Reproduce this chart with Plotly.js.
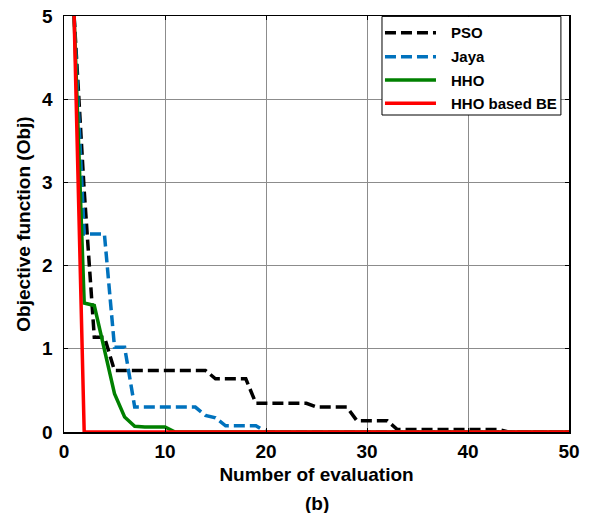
<!DOCTYPE html>
<html>
<head>
<meta charset="utf-8">
<script src="https://cdn.plot.ly/plotly-3.0.1.min.js"></script>
<style>html,body{margin:0;padding:0;background:#fff;}#chart{width:591px;height:513px;}</style>
</head>
<body>
<div id="chart"></div>
<script>
// Evaluation index
const evals = Array.from({length: 50}, (_, i) => i + 1);

// Series values
const psoVals = [5, 2.9, 1.14, 1.14, 0.74, 0.74, 0.74, 0.74, 0.74, 0.74,
  0.74, 0.74, 0.74, 0.74, 0.64, 0.64, 0.64, 0.64, 0.345, 0.345,
  0.345, 0.345, 0.345, 0.345, 0.30, 0.30, 0.30, 0.30, 0.136, 0.136,
  0.136, 0.136, 0.03, 0.03, 0.03, 0.03, 0.03, 0.03, 0.03, 0.03,
  0.03, 0.03, 0.03, 0, 0, 0, 0, 0, 0, 0];
const jayaVals = [5, 2.38, 2.38, 2.38, 1.02, 1.02, 0.30, 0.30, 0.30, 0.30,
  0.30, 0.30, 0.30, 0.20, 0.17, 0.075, 0.075, 0.075, 0.075, 0,
  0, 0, 0, 0, 0, 0, 0, 0, 0, 0,
  0, 0, 0, 0, 0, 0, 0, 0, 0, 0,
  0, 0, 0, 0, 0, 0, 0, 0, 0, 0];
const hhoVals = [5, 1.55, 1.52, 1.0, 0.46, 0.18, 0.07, 0.06, 0.06, 0.06,
  0, 0, 0, 0, 0, 0, 0, 0, 0, 0,
  0, 0, 0, 0, 0, 0, 0, 0, 0, 0,
  0, 0, 0, 0, 0, 0, 0, 0, 0, 0,
  0, 0, 0, 0, 0, 0, 0, 0, 0, 0];
const hhoBeVals = [5, 0, 0, 0, 0, 0, 0, 0, 0, 0,
  0, 0, 0, 0, 0, 0, 0, 0, 0, 0,
  0, 0, 0, 0, 0, 0, 0, 0, 0, 0,
  0, 0, 0, 0, 0, 0, 0, 0, 0, 0,
  0, 0, 0, 0, 0, 0, 0, 0, 0, 0];

const seriesNames = ['PSO', 'Jaya', 'HHO', 'HHO based BE'];
const seriesColors = ['#000000', '#0072BD', '#008000', '#FF0000'];
const seriesDash = ['11px,5px', '11px,5px', 'solid', 'solid'];
const xTickVals = [0, 10, 20, 30, 40, 50];
const yTickVals = [0, 1, 2, 3, 4, 5];

const allVals = [psoVals, jayaVals, hhoVals, hhoBeVals];
const traces = allVals.map((v, i) => ({
  x: evals, y: v, name: seriesNames[i], mode: 'lines', showlegend: false,
  line: {color: seriesColors[i], width: 3.5, dash: seriesDash[i]}
}));

const FONT = 'Liberation Sans, Arial, sans-serif';

// Legend drawn as a boxed key in paper coordinates
const legBox = {x0: 0.6297, x1: 0.984, y0: 0.762, y1: 0.999};
const legRows = [0.960, 0.902, 0.846, 0.790];
const legLine = {x0: 0.6356, x1: 0.7366};
const legText = 0.7624;

const shapes = [{
  type: 'rect', xref: 'paper', yref: 'paper',
  x0: legBox.x0, x1: legBox.x1, y0: legBox.y0, y1: legBox.y1,
  line: {color: '#000', width: 1}, fillcolor: '#fff', layer: 'above'
}];
const annotations = [];
seriesNames.forEach((n, i) => {
  shapes.push({
    type: 'line', xref: 'paper', yref: 'paper',
    x0: legLine.x0, x1: legLine.x1, y0: legRows[i], y1: legRows[i],
    line: {color: seriesColors[i], width: 3.5, dash: seriesDash[i]}, layer: 'above'
  });
  annotations.push({
    text: '<b>' + n + '</b>', xref: 'paper', yref: 'paper',
    x: legText, y: legRows[i], xanchor: 'left', yanchor: 'middle',
    showarrow: false, font: {family: FONT, size: 15, color: '#000'}
  });
});
annotations.push({
  text: '<b>(b)</b>', xref: 'paper', yref: 'paper', x: 0.5, y: -0.171,
  xanchor: 'center', yanchor: 'middle', showarrow: false,
  font: {family: FONT, size: 19, color: '#000'}
});

const layout = {
  width: 591, height: 513,
  margin: {l: 64, r: 22, t: 16, b: 81},
  paper_bgcolor: '#fff', plot_bgcolor: '#fff',
  showlegend: false,
  xaxis: {
    range: [0, 50], tickvals: xTickVals, ticktext: xTickVals.map(v => '<b>' + v + '</b>'),
    showgrid: true, gridcolor: '#8c8c8c', gridwidth: 1,
    zeroline: false, showline: true, linecolor: '#000', linewidth: 1.5, mirror: 'ticks',
    ticks: 'inside', ticklen: 4, tickcolor: '#000', ticklabelstandoff: 2,
    tickfont: {family: FONT, size: 19, color: '#000'},
    title: {text: '<b>Number of evaluation</b>', standoff: 6,
            font: {family: FONT, size: 19, color: '#000'}}
  },
  yaxis: {
    range: [0, 5], tickvals: yTickVals, ticktext: yTickVals.map(v => '<b>' + v + '</b>'),
    showgrid: true, gridcolor: '#8c8c8c', gridwidth: 1,
    zeroline: false, showline: true, linecolor: '#000', linewidth: 1.5, mirror: 'ticks',
    ticks: 'inside', ticklen: 4, tickcolor: '#000', ticklabelstandoff: 6,
    tickfont: {family: FONT, size: 19, color: '#000'},
    title: {text: '<b>Objective function (Obj)</b>', standoff: 6,
            font: {family: FONT, size: 19, color: '#000'}}
  },
  shapes: shapes,
  annotations: annotations
};

Plotly.newPlot('chart', traces, layout, {displayModeBar: false, staticPlot: true});
</script>
</body>
</html>
